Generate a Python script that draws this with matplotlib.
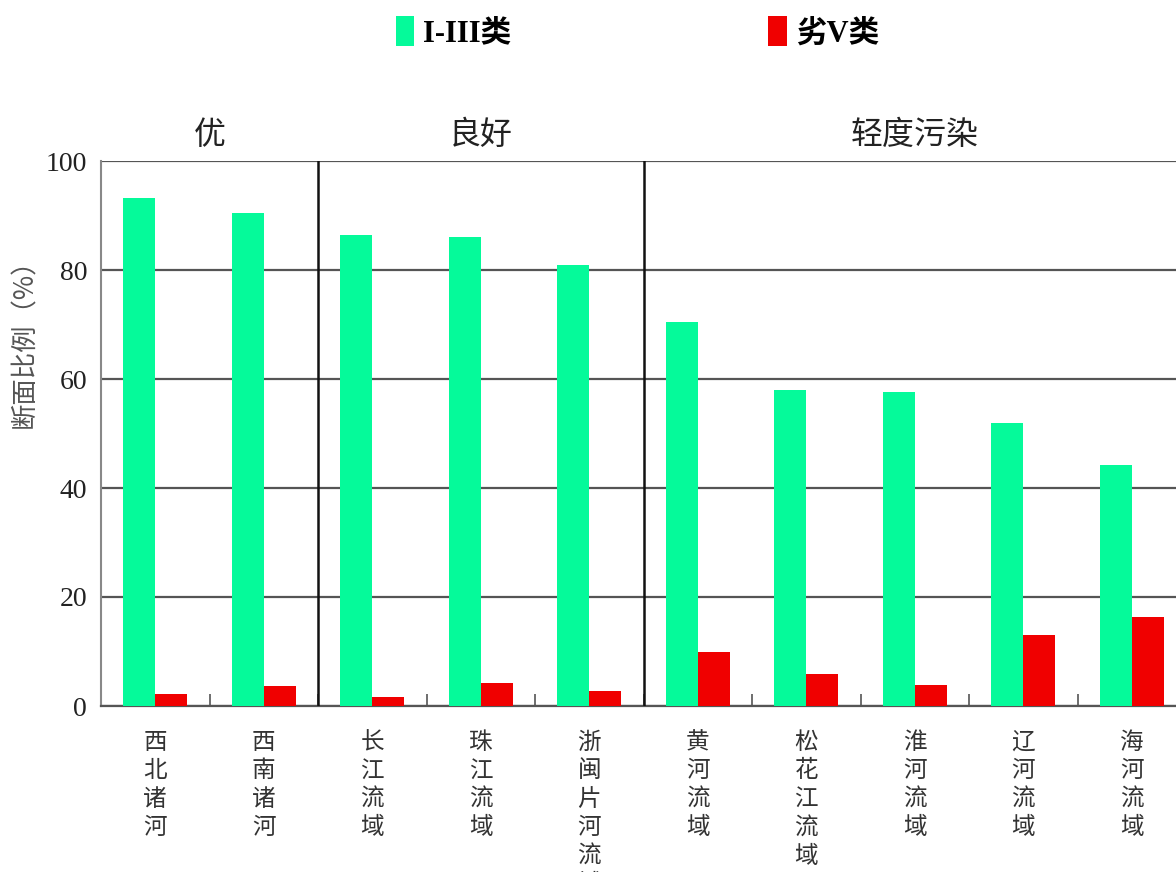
import matplotlib
matplotlib.use("Agg")
import matplotlib.pyplot as plt
from matplotlib.patches import Patch
import numpy as np

plt.rcParams['font.family'] = ['Liberation Serif', 'Noto Sans CJK SC', 'DejaVu Sans']

categories = ["西北诸河", "西南诸河", "长江流域", "珠江流域", "浙闽片河流域",
              "黄河流域", "松花江流域", "淮河流域", "辽河流域", "海河流域"]
good_I_III = [93.2, 90.5, 86.4, 86.1, 80.9, 70.5, 58.0, 57.6, 52.0, 44.3]
bad_V = [2.2, 3.7, 1.6, 4.2, 2.7, 9.9, 5.9, 3.9, 13.0, 16.4]
series_names = ["I-III类", "劣V类"]
groups = ["优", "良好", "轻度污染"]
group_bounds = [(-0.5, 1.5), (1.5, 4.5), (4.5, 9.5)]
yticks = [0, 20, 40, 60, 80, 100]

green = '#05FA9A'
red = '#F00000'

fig = plt.figure(figsize=(11.76, 8.72), dpi=100)
ax = fig.add_axes([101/1176, 1 - 706/872, 1085/1176, (706-161)/872])

x = np.arange(len(categories))
w = 0.295
ax.bar(x - w/2, good_I_III, width=w, color=green, zorder=3, label=series_names[0])
ax.bar(x + w/2, bad_V, width=w, color=red, zorder=3, label=series_names[1])

ax.set_xlim(-0.5, 9.5)
ax.set_ylim(0, 100)
ax.set_yticks(yticks)
ax.set_yticklabels([str(v) for v in yticks], fontsize=20, family='Liberation Serif', color='#222222')
ax.tick_params(axis='y', length=0, pad=10)
ax.yaxis.grid(True, color='#555555', linewidth=1.6, zorder=0)

# boundaries ticks (inward) and centered labels
ax.set_xticks(np.arange(-0.5, 10, 1))
ax.set_xticklabels([])
ax.tick_params(axis='x', which='major', direction='in', length=9, width=1.2, color='#555555')
ax.set_xticks(x, minor=True)
ax.set_xticklabels(["\n".join(c) for c in categories], minor=True,
                   family=['Noto Sans CJK SC'], fontsize=17, color='#333333',
                   va='top', linespacing=1.3)
ax.tick_params(axis='x', which='minor', length=0, pad=18)

for s in ['top', 'right']:
    ax.spines[s].set_visible(False)
ax.spines['left'].set_color('#888888')
ax.spines['left'].set_linewidth(1.5)
ax.spines['bottom'].set_color('#555555')
ax.spines['bottom'].set_linewidth(1.6)

# group dividers
for b in [1.5, 4.5]:
    ax.axvline(b, color='#111111', linewidth=1.8, zorder=4)

# group labels
for g, (a, b) in zip(groups, group_bounds):
    ax.text((a + b) / 2, 1.047, g, transform=ax.get_xaxis_transform(),
            ha='center', va='center', fontsize=23, family=['Noto Sans CJK SC'],
            color='#222222')

ax.set_ylabel("断面比例（%）", family=['Noto Sans CJK SC'], fontsize=19, color='#555555')
ax.yaxis.set_label_coords(-0.058, 0.677)

handles = [Patch(facecolor=green), Patch(facecolor=red)]
fig.legend(handles, series_names, loc='center', bbox_to_anchor=(0.542, 0.963), ncol=2,
           frameon=False, handlelength=0.6, handleheight=1.1, handletextpad=0.3,
           columnspacing=8.4, prop={'family': ['Liberation Serif', 'Noto Sans CJK SC'],
                                    'size': 22, 'weight': 'bold'})

fig.savefig("out.png", dpi=100)
